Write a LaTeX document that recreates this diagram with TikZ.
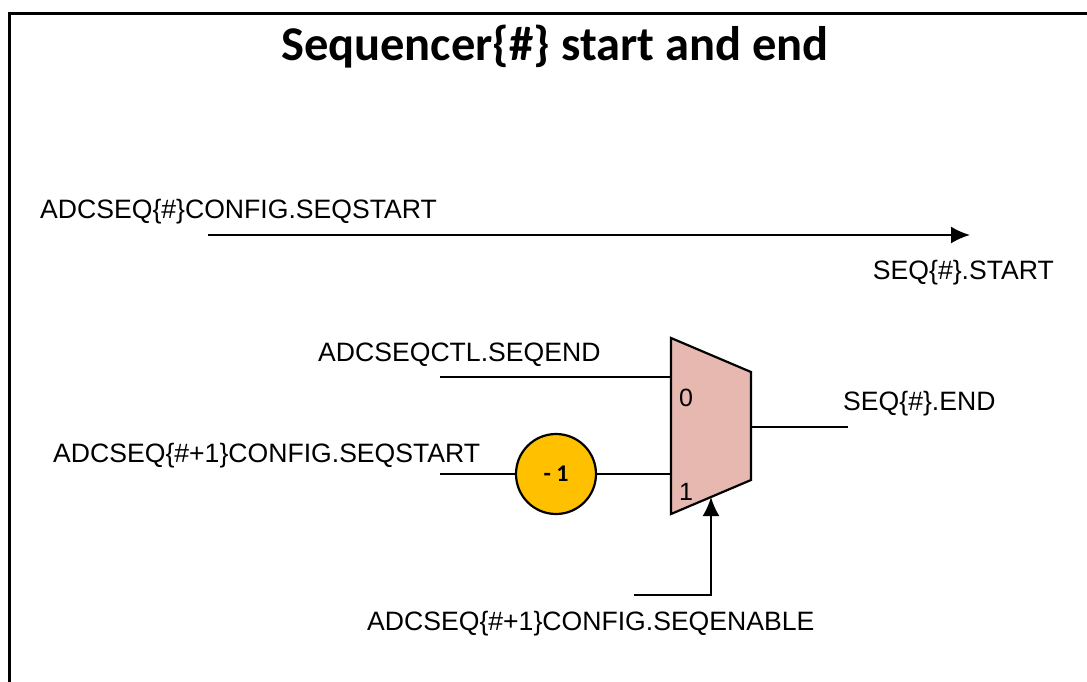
\documentclass[tikz,border=0pt]{standalone}
\usepackage{fontspec}
\setmainfont{Liberation Sans}
\newfontfamily\titlefont{Carlito}
\usetikzlibrary{arrows.meta}
\definecolor{muxfill}{RGB}{230,184,176}
\definecolor{gold}{RGB}{255,192,0}
\tikzset{
  lbl/.style={inner sep=0pt, font=\fontsize{26.6}{30}\selectfont},
  wire/.style={line width=2.2pt, draw=black},
  arr/.style={wire, -{Latex[length=19pt,width=17pt]}},
}
\begin{document}
\begin{tikzpicture}[x=1pt,y=-1pt]
\useasboundingbox (0,0) rectangle (1087,681);
\fill[white] (0,0) rectangle (1087,681);
\draw[line width=3pt] (9,690) -- (9,13) -- (1095,13);
\node[inner sep=0pt, font=\titlefont\bfseries\fontsize{48.5}{56}\selectfont] (title) at (555,47) {Sequencer\{\#\} start and end};

% start path
\node[lbl, anchor=west] (l1) at (40,212) {ADCSEQ\{\#\}CONFIG.SEQSTART};
\coordinate (s1) at (208,235);
\coordinate (e1) at (970,235);
\draw[arr] (s1) -- (e1);
\node[lbl, anchor=east] (l2) at (1054,273) {SEQ\{\#\}.START};

% mux
\coordinate (mtl) at (671,338);
\coordinate (mtr) at (751,372);
\coordinate (mbr) at (751,480);
\coordinate (mbl) at (671,514);
\draw[wire, fill=muxfill, line join=miter] (mtl) -- (mtr) -- (mbr) -- (mbl) -- cycle;
\node[inner sep=0pt, font=\fontsize{25}{28}\selectfont, anchor=west] (m0) at (679,398) {0};
\node[inner sep=0pt, font=\fontsize{25}{28}\selectfont, anchor=west] (m1) at (679,492) {1};
\coordinate (in0) at (671,377);
\coordinate (in1) at (671,474);
\coordinate (out) at (751,427);
\coordinate (sel) at (711,497);

\node[lbl, anchor=west] (l3) at (318,355) {ADCSEQCTL.SEQEND};
\coordinate (s3) at (440,377);
\draw[wire] (s3) -- (in0);

\node[lbl, anchor=west] (l4) at (843,404) {SEQ\{\#\}.END};
\coordinate (e4) at (848,427);
\draw[wire] (out) -- (e4);

\node[lbl, anchor=west] (l5) at (53,456) {ADCSEQ\{\#+1\}CONFIG.SEQSTART};
\coordinate (s5) at (440,474);
\node[circle, draw=black, line width=2.2pt, fill=gold, minimum size=80pt, inner sep=0pt,
      font=\titlefont\bfseries\fontsize{24}{28}\selectfont] (dec) at (556,474) {- 1};
\draw[wire] (s5) -- (dec);
\draw[wire] (dec) -- (in1);

\coordinate (s6) at (634,595);
\draw[arr] (s6) -- (711,595) -- (sel);
\node[lbl, anchor=west] (l6) at (367,624) {ADCSEQ\{\#+1\}CONFIG.SEQENABLE};
\end{tikzpicture}
\end{document}
